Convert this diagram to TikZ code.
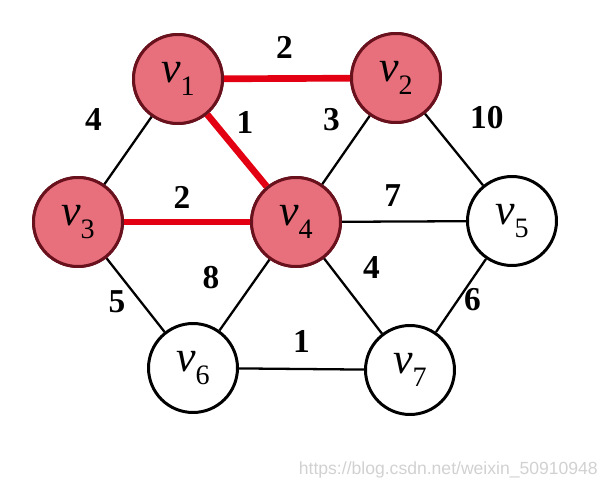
\documentclass[tikz,border=0pt]{standalone}
\usepackage{fontspec}
\setmainfont{Liberation Serif}
\newfontfamily\markfont{Liberation Sans}
\usetikzlibrary{%
	calc,%
	positioning%
}

\definecolor{vfill}{RGB}{232,112,124}
\definecolor{vline}{RGB}{105,18,30}
\definecolor{tred}{RGB}{226,0,18}

\newcommand{\vx}[1]{\textit{v}\raisebox{-0.28em}{\fontsize{16}{18}\selectfont #1}}

\tikzset{
	vert/.style={circle,draw=black,line width=1.7pt,minimum size=1.78cm,inner sep=0pt,
		font=\fontsize{25}{28}\selectfont},
	chosen/.style={vert,fill=vfill,draw=vline},
	edge/.style={line width=1.3pt,black},
	tedge/.style={line width=3.8pt,tred},
	wt/.style={inner sep=0pt,font=\fontsize{19}{22}\selectfont\bfseries}
}

\begin{document}
\begin{tikzpicture}[x=0.02cm,y=-0.02cm]
				\useasboundingbox (0,0) rectangle (613,490);
				
				% Vertices
				\node[chosen] (v1) at (178,79) {\vx{1}};
				\node[chosen] (v2) at (396,78) {\vx{2}};
				\node[chosen] (v3) at (78,222) {\vx{3}};
				\node[chosen] (v4) at (296,222) {\vx{4}};
				\node[vert] (v5) at (512,221) {\vx{5}};
				\node[vert] (v6) at (193,368) {\vx{6}};
				\node[vert] (v7) at (410,370) {\vx{7}};
				
				% Edges
				\draw[edge] (v1) -- node[wt,above left=0.38cm and 0.5cm]{4} (v3);
				\draw[edge] (v2) -- node[wt,above left=0.36cm and 0.1cm]{3} (v4);
				\draw[edge] (v2) -- node[wt,above right=0.4cm and 0.3cm]{10} (v5);
				\draw[edge] (v4) -- node[wt,pos=0.41,above=0.28cm]{7} (v5);
				\draw[edge] (v4) -- node[wt,above left=0.1cm and 0.48cm]{8} (v6);
				\draw[edge] (v4) -- node[wt,above right=0.32cm and 0.18cm]{4} (v7);
				\draw[edge] (v3) -- node[wt,left=0.18cm,yshift=-0.14cm]{5} (v6);
				\draw[edge] (v5) -- node[wt,right=0.04cm,yshift=-0.08cm]{6} (v7);
				\draw[edge] (v6) -- node[wt,above=0.3cm]{1} (v7);
				
				% Tree edges
				\draw[tedge] (v1) -- node[wt,black,pos=0.48,above=0.34cm]{2} (v2);
				\draw[tedge] (v1) -- node[wt,black,above=0.28cm,xshift=0.16cm]{1} (v4);
				\draw[tedge] (v3) -- node[wt,black,pos=0.46,above=0.2cm]{2} (v4);
				
				% Redraw chosen vertices on top
				\foreach \vertex/\lab in {v1/1,v2/2,v3/3,v4/4}
				\node[chosen] at (\vertex) {\vx{\lab}};
				
				% Watermark
				\node[anchor=east,text=black!18,font=\markfont\fontsize{10}{12}\selectfont] (mark) at (604,470) {https://blog.csdn.net/weixin\_50910948};
			\end{tikzpicture}
\end{document}
